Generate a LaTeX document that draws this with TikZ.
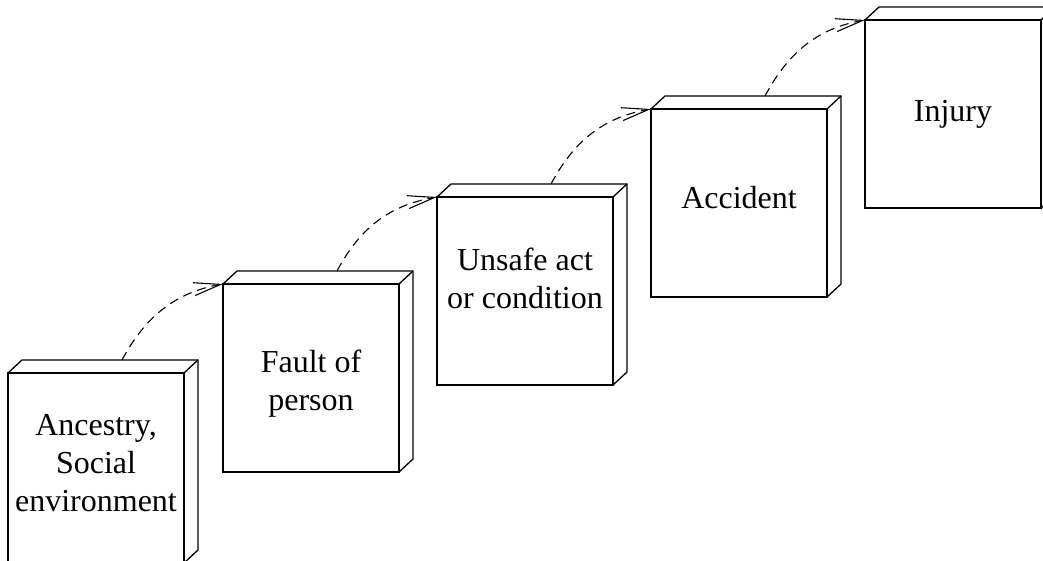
\documentclass[tikz,border=0pt]{standalone}
\usepackage{fontspec}
\setmainfont{Liberation Serif}
\usetikzlibrary{arrows.meta}
\begin{document}
\begin{tikzpicture}[x=1pt, y=-1pt,
  edge/.style={line width=1.3pt, line join=miter},
  nodebox/.style={draw, edge, inner sep=0pt, outer sep=0pt,
    minimum width=176pt, minimum height=188pt, anchor=north west},
  lbl/.style={font=\fontsize{32}{38}\selectfont, anchor=base, inner sep=0pt},
  dep/.style={line width=1.1pt, dash pattern=on 9pt off 6pt,
    -{Straight Barb[length=27pt, width=13pt, line width=1.1pt]}},
]
\clip (0,0) rectangle (1043,561);

% front faces of the five stages
\node[nodebox, minimum height=190pt] (b1) at (8,373) {};
\node[nodebox] (b2) at (223,284) {};
\node[nodebox] (b3) at (437,197) {};
\node[nodebox] (b4) at (651,109) {};
\node[nodebox] (b5) at (865,20) {};

% top and side faces giving each box its depth
\foreach \n in {b1,b2,b3,b4,b5} {
  \draw[edge] (\n.north west) -- ++(14,-13)
    -| ([shift={(14,-13)}]\n.south east) -- (\n.south east);
  \draw[edge] (\n.north east) -- ++(14,-13);
}

% labels
\node[lbl] (t1a) at ([shift={(88,62)}]b1.north west) {Ancestry,};
\node[lbl] (t1b) at ([shift={(88,100)}]b1.north west) {Social};
\node[lbl] (t1c) at ([shift={(88,138)}]b1.north west) {environment};
\node[lbl] (t2a) at ([shift={(88,88)}]b2.north west) {Fault of};
\node[lbl] (t2b) at ([shift={(88,126)}]b2.north west) {person};
\node[lbl] (t3a) at ([shift={(88,73)}]b3.north west) {Unsafe act};
\node[lbl] (t3b) at ([shift={(88,111)}]b3.north west) {or condition};
\node[lbl] (t4) at ([shift={(88,100)}]b4.north west) {Accident};
\node[lbl] (t5) at ([shift={(88,102)}]b5.north west) {Injury};

% dashed dependencies from each stage to the next
\foreach \a/\b in {b1/b2,b2/b3,b3/b4,b4/b5} {
  \draw[dep] ([shift={(114,-13)}]\a.north west)
    .. controls +(23,-43) and +(-48,8.5) .. (\b.north west);
}
\end{tikzpicture}
\end{document}
